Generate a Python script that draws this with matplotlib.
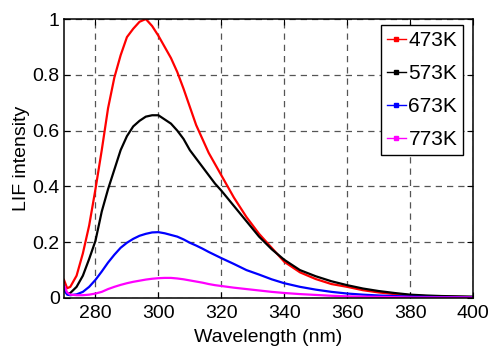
import numpy as np
import matplotlib
matplotlib.use("Agg")
import matplotlib.pyplot as plt
from matplotlib.lines import Line2D

plt.rcParams['font.family'] = ['Liberation Sans', 'DejaVu Sans']

# Wavelength sample points (nm)
wl = [270, 271, 272, 274, 276, 278, 280, 282, 284, 286, 288, 290, 292, 294, 296,
      298, 300, 302, 304, 306, 308, 310, 312, 314, 316, 318, 320, 324, 328, 332,
      336, 340, 345, 350, 355, 360, 365, 370, 375, 380, 385, 390, 395, 400]

# LIF intensity
i473 = [0.065, 0.035, 0.04, 0.08, 0.16, 0.26, 0.39, 0.53, 0.68, 0.79, 0.87, 0.935,
        0.965, 0.99, 1.0, 0.975, 0.94, 0.9, 0.86, 0.81, 0.75, 0.685, 0.62, 0.57,
        0.52, 0.48, 0.44, 0.36, 0.29, 0.23, 0.18, 0.13, 0.092, 0.068, 0.05, 0.04,
        0.028, 0.02, 0.014, 0.01, 0.007, 0.005, 0.004, 0.003]
i573 = [0.03, 0.015, 0.018, 0.04, 0.08, 0.14, 0.205, 0.31, 0.39, 0.46, 0.53, 0.58,
        0.615, 0.635, 0.65, 0.655, 0.655, 0.64, 0.625, 0.6, 0.57, 0.53, 0.5, 0.47,
        0.44, 0.41, 0.385, 0.33, 0.275, 0.22, 0.175, 0.137, 0.1, 0.078, 0.06, 0.046,
        0.034, 0.025, 0.018, 0.012, 0.009, 0.007, 0.006, 0.005]
i673 = [0.03, 0.012, 0.01, 0.013, 0.022, 0.04, 0.065, 0.095, 0.127, 0.155, 0.18, 0.198,
        0.212, 0.223, 0.23, 0.235, 0.236, 0.232, 0.226, 0.22, 0.21, 0.198, 0.188, 0.177,
        0.165, 0.154, 0.143, 0.122, 0.1, 0.084, 0.067, 0.053, 0.04, 0.03, 0.022, 0.016,
        0.012, 0.009, 0.007, 0.005, 0.004, 0.003, 0.003, 0.002]
i773 = [0.045, 0.02, 0.012, 0.01, 0.01, 0.012, 0.016, 0.022, 0.032, 0.04, 0.047, 0.053,
        0.058, 0.062, 0.066, 0.069, 0.071, 0.072, 0.072, 0.07, 0.067, 0.063, 0.059, 0.055,
        0.05, 0.046, 0.043, 0.037, 0.032, 0.027, 0.022, 0.018, 0.014, 0.011, 0.008, 0.006,
        0.005, 0.004, 0.003, 0.002, 0.002, 0.002, 0.002, 0.002]

labels = ['473K', '573K', '673K', '773K']
colors = ['#ff0000', '#000000', '#0000ff', '#ff00ff']
series = [i473, i573, i673, i773]

fig = plt.figure(figsize=(4.94, 3.56), dpi=100)
ax = fig.add_axes([64/494, 1-298/356, 409/494, 279/356])

for y, c in zip(series, colors):
    ax.plot(wl, y, color=c, lw=1.6, solid_joinstyle='round')

ax.set_xlim(270, 400)
ax.set_ylim(0, 1)
ax.set_xticks(np.arange(280, 401, 20))
ax.set_yticks([0, 0.2, 0.4, 0.6, 0.8, 1])
ax.set_yticklabels(['0', '0.2', '0.4', '0.6', '0.8', '1'])
ax.tick_params(direction='in', length=4, width=0.8, labelsize=14,
               top=True, right=True, pad=3)
ax.tick_params(axis='x', pad=5)
for s in ax.spines.values():
    s.set_linewidth(1.1)

ax.grid(True, color='#555555', lw=0.9, ls=(0, (5, 4)))

ax.set_xlabel('Wavelength (nm)', fontsize=14, labelpad=5)
ax.set_ylabel('LIF intensity', fontsize=14, labelpad=2)

# legend handles: short line with a small marker in the middle
handles = [Line2D([0], [0], color=c, lw=1.0, marker='s', markersize=2.5) for c in colors]
leg = ax.legend(handles, labels, loc='upper right', bbox_to_anchor=(0.976, 0.978),
                borderaxespad=0, fontsize=15, fancybox=False, framealpha=1,
                edgecolor='black', handlelength=0.95, handletextpad=0.1,
                labelspacing=0.68, borderpad=0.28)
leg.get_frame().set_linewidth(1.0)

fig.savefig('out.png', dpi=100)
